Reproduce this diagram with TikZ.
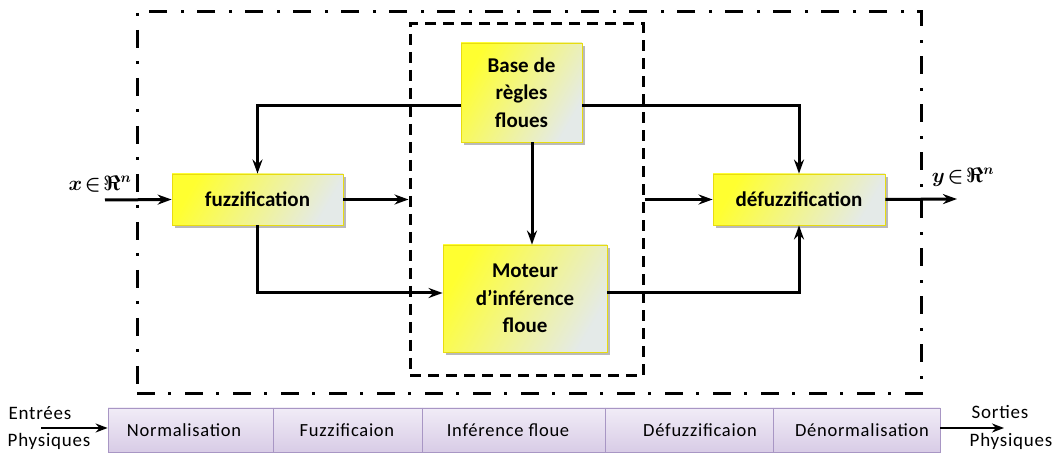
\documentclass[tikz,border=0pt]{standalone}
\usepackage{fontspec}
\setmainfont{Carlito}
\newfontfamily\spacedfont[LetterSpace=4]{Carlito}
\usepackage{amsmath,amssymb}
\usetikzlibrary{arrows.meta,shadows,calc}
\definecolor{boxedge}{HTML}{E8DC10}
\definecolor{boxyel}{HTML}{FFFF30}
\definecolor{boxpale}{HTML}{E4EAE8}
\definecolor{bartop}{HTML}{F1ECF7}
\definecolor{barbot}{HTML}{D8CCE6}
\definecolor{baredge}{HTML}{A896C4}
\tikzset{
  fbox/.style={draw=boxedge, line width=0.8pt, shading=axis, left color=boxyel, right color=boxpale, shading angle=60,
    drop shadow={shadow xshift=3pt, shadow yshift=-3pt, fill=black!45, opacity=0.6},
    font=\bfseries\fontsize{21}{27.5}\selectfont, align=center, inner sep=0pt},
  arr/.style={line width=3pt, -{Stealth[length=14pt,width=10pt]}},
  dashdot/.style={line width=3pt, dash pattern=on 18pt off 13pt on 3pt off 14pt},
  dash8/.style={line width=3pt, dash pattern=on 11pt off 7pt},
  barlbl/.style={font=\spacedfont\fontsize{18.5}{21}\selectfont, inner sep=0pt},
  sidelbl/.style={font=\spacedfont\fontsize{19}{22}\selectfont, inner sep=0pt},
  mlbl/.style={font=\fontsize{22}{24}\selectfont, inner sep=0pt},
}
\begin{document}
\begin{tikzpicture}[x=1pt,y=-1pt]
\useasboundingbox (0,0) rectangle (1061,454);
% frames
\node[draw, dashdot, minimum width=784pt, minimum height=382pt, inner sep=0pt] (outer) at (529,203) {};
\node[draw, dash8, minimum width=233pt, minimum height=352pt, inner sep=0pt] (inner) at (526.5,200) {};
% boxes
\node[fbox, minimum width=171pt, minimum height=51pt] (fuz) at (257.5,199.5) {fuzzification};
\node[fbox, minimum width=172pt, minimum height=51pt] (def) at (799,199.5) {défuzzification};
\node[fbox, minimum width=121pt, minimum height=99pt] (base) at (521.5,92.5) {Base de\\règles\\floues};
\node[fbox, minimum width=164pt, minimum height=107pt] (mot) at (525,298.5) {Moteur\\d’inférence\\floue};
% connectors
\draw[arr] ([yshift=-13.5pt]base.west) -| (fuz.north);
\draw[arr] ([yshift=-13.5pt]base.east) -| (def.north);
\draw[arr] (base.south -| 532,0) -- (mot.north -| 532,0);
\draw[arr] (fuz.east) -- (fuz.east -| inner.west);
\draw[arr] (def.west -| inner.east) -- (def.west);
\draw[arr] (fuz.south) |- ([yshift=5.5pt]mot.west);
\draw[arr] ([yshift=5.5pt]mot.east) -| (def.south);
\coordinate (in) at (105,200);
\coordinate (out) at (957,199);
\draw[arr] (in) -- (fuz.west);
\draw[arr] (def.east) -- (out);
\node[mlbl] (xl) at (100,184) {$\boldsymbol{x\!\in\!\Re^{n}}$};
\node[mlbl] (yl) at (963,177) {$\boldsymbol{y\!\in\!\Re^{n}}$};
% bottom bar
\node[draw=baredge, line width=0.8pt, top color=bartop, bottom color=barbot, minimum width=832pt, minimum height=44pt, inner sep=0pt] (bar) at (524,430) {};
\foreach \xx in {273,422,605,773} \draw[baredge, line width=0.8pt] (\xx,408) -- (\xx,452);
\node[barlbl] (b1) at (184,430) {Normalisation};
\node[barlbl] (b2) at (347,430) {Fuzzificaion};
\node[barlbl] (b3) at (508,430) {Inférence floue};
\node[barlbl] (b4) at (700,430) {Défuzzificaion};
\node[barlbl] (b5) at (862,430) {Dénormalisation};
\node[sidelbl] (e1) at (40,413) {Entrées};
\node[sidelbl] (e2) at (49,441) {Physiques};
\node[sidelbl] (s1) at (1000,412) {Sorties};
\node[sidelbl] (s2) at (1011,441) {Physiques};
\coordinate (inb) at (41,428);
\coordinate (outb) at (1004,428);
\draw[line width=2.6pt, -{Stealth[length=12pt,width=9pt]}] (inb) -- (bar.west |- inb);
\draw[line width=2.6pt, -{Stealth[length=12pt,width=9pt]}] (bar.east |- outb) -- (outb);
\end{tikzpicture}
\end{document}
